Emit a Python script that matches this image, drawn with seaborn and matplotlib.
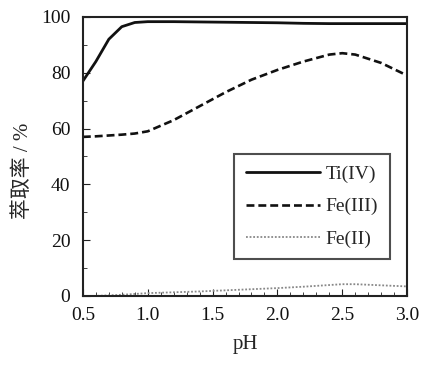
import pandas as pd
import matplotlib
matplotlib.use("Agg")
import matplotlib.pyplot as plt
import seaborn as sns
from matplotlib.ticker import MultipleLocator, FormatStrFormatter

# values
ph = [0.5, 0.6, 0.7, 0.8, 0.9, 1.0, 1.2, 1.4, 1.6, 1.8, 2.0, 2.2, 2.4, 2.5, 2.6, 2.8, 3.0]
ti4 = [77, 84, 92, 96.5, 98, 98.3, 98.3, 98.2, 98.1, 98.0, 97.9, 97.7, 97.6, 97.6, 97.6, 97.6, 97.6]
fe3 = [57, 57.2, 57.5, 57.8, 58.2, 59, 63, 68, 73, 77.5, 81, 84, 86.5, 87, 86.5, 83.5, 79]
fe2 = [0, 0, 0.2, 0.4, 0.7, 1.0, 1.3, 1.6, 2.0, 2.4, 2.8, 3.3, 3.9, 4.2, 4.2, 3.8, 3.4]
series = ["Ti(IV)", "Fe(III)", "Fe(II)"]

df = pd.DataFrame({
    "pH": ph * 3,
    "value": ti4 + fe3 + fe2,
    "series": [series[0]] * len(ph) + [series[1]] * len(ph) + [series[2]] * len(ph),
})

sns.set_style("ticks")
plt.rcParams['font.family'] = ['Liberation Serif', 'Noto Sans CJK SC']

fig = plt.figure(figsize=(4.25, 3.76), dpi=100)
ax = fig.add_axes([0.195, 0.213, 0.763, 0.742])

styles = {"Ti(IV)": ("-", 2.0, "#111111"),
          "Fe(III)": ((0, (3, 1.5)), 1.9, "#111111"),
          "Fe(II)": ((0, (1, 1)), 1.3, "#888888")}
for s in series:
    ls, lw, c = styles[s]
    sns.lineplot(data=df[df["series"] == s], x="pH", y="value", ax=ax,
                 color=c, linestyle=ls, linewidth=lw, label=s)

ax.set_xlim(0.5, 3.0)
ax.set_ylim(0, 100)
ax.xaxis.set_major_locator(MultipleLocator(0.5))
ax.xaxis.set_minor_locator(MultipleLocator(0.1))
ax.xaxis.set_major_formatter(FormatStrFormatter("%.1f"))
ax.yaxis.set_major_locator(MultipleLocator(20))
ax.yaxis.set_minor_locator(MultipleLocator(10))
ax.tick_params(which="both", direction="in", labelsize=14, color="#222222", labelcolor="#111111")
ax.tick_params(which="major", length=5)
ax.tick_params(which="minor", length=3)
ax.tick_params(axis="y", pad=9)
ax.tick_params(axis="x", pad=8)
for sp in ax.spines.values():
    sp.set_linewidth(1.5)
    sp.set_color("#222222")

ax.set_xlabel("pH", fontsize=15, labelpad=8)
ax.set_ylabel("萃取率 / %", fontsize=15)
ax.yaxis.set_label_coords(-0.155, 0.45)

leg = ax.legend(loc="center right", bbox_to_anchor=(0.977, 0.32), fontsize=14,
                frameon=True, fancybox=False, edgecolor="#222222",
                handlelength=3.8, handletextpad=0.3, borderpad=0.6, labelspacing=0.75)
leg.get_frame().set_linewidth(1.5)

fig.savefig("out.png", dpi=100)
